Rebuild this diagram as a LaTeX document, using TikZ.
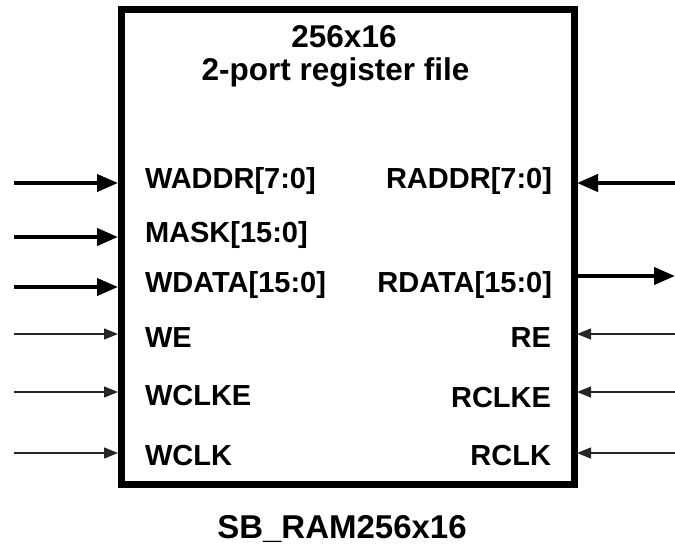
\documentclass[tikz,border=0pt]{standalone}
\usepackage{fontspec}
\setmainfont{Liberation Sans}
\usetikzlibrary{arrows.meta}
\begin{document}
\begin{tikzpicture}[x=1pt,y=-1pt,
  lbl/.style={inner sep=0pt, outer sep=0pt, font=\fontsize{29}{34}\selectfont\bfseries},
  ttl/.style={inner sep=0pt, outer sep=0pt, font=\fontsize{31.5}{36}\selectfont\bfseries},
  bus/.style={line width=4pt, -{Triangle[length=21pt,width=17pt]}},
  sig/.style={line width=1.3pt, draw=black!85, -{Triangle[length=14pt,width=11pt]}}]
\useasboundingbox (0,0) rectangle (675,550);
% main box
\node[draw, line width=7pt, minimum width=453pt, minimum height=475pt,
      inner sep=0pt, outer sep=0pt] (box) at (347.5,246.5) {};
% title
\node[ttl, anchor=base] (t1) at (344,47) {256x16};
\node[ttl, anchor=base] (t2) at (335.5,80) {2-port register file};
\node[ttl, anchor=base, font=\fontsize{33}{38}\selectfont\bfseries] (name) at (342,538) {SB\_RAM256x16};
% left labels
\node[lbl, anchor=base west] (lWADDR) at (145,188) {WADDR[7:0]};
\node[lbl, anchor=base west] (lMASK)  at (145,242) {MASK[15:0]};
\node[lbl, anchor=base west] (lWDATA) at (145,292) {WDATA[15:0]};
\node[lbl, anchor=base west] (lWE)    at (145,347) {WE};
\node[lbl, anchor=base west] (lWCLKE) at (145,405) {WCLKE};
\node[lbl, anchor=base west] (lWCLK)  at (145,465) {WCLK};
% right labels
\node[lbl, anchor=base east] (lRADDR) at (552,188) {RADDR[7:0]};
\node[lbl, anchor=base east] (lRDATA) at (552,292) {RDATA[15:0]};
\node[lbl, anchor=base east] (lRE)    at (551,347) {RE};
\node[lbl, anchor=base east] (lRCLKE) at (551,407) {RCLKE};
\node[lbl, anchor=base east] (lRCLK)  at (551,465) {RCLK};
% port coordinates (left)
\coordinate (sWADDR) at (14,183);  \coordinate (pWADDR) at (118,183);
\coordinate (sMASK)  at (14,237);  \coordinate (pMASK)  at (118,237);
\coordinate (sWDATA) at (14,287);  \coordinate (pWDATA) at (118,287);
\coordinate (sWE)    at (14,334);  \coordinate (pWE)    at (118,334);
\coordinate (sWCLKE) at (14,392);  \coordinate (pWCLKE) at (118,392);
\coordinate (sWCLK)  at (14,453);  \coordinate (pWCLK)  at (118,453);
% port coordinates (right)
\coordinate (sRADDR) at (675,183); \coordinate (pRADDR) at (577,183);
\coordinate (pRDATA) at (577,276); \coordinate (sRDATA) at (675,276);
\coordinate (sRE)    at (675,334); \coordinate (pRE)    at (577,334);
\coordinate (sRCLKE) at (675,392); \coordinate (pRCLKE) at (577,392);
\coordinate (sRCLK)  at (675,453); \coordinate (pRCLK)  at (577,453);
% connectors
\draw[bus] (sWADDR) -- (pWADDR);
\draw[bus] (sMASK) -- (pMASK);
\draw[bus] (sWDATA) -- (pWDATA);
\draw[sig] (sWE) -- (pWE);
\draw[sig] (sWCLKE) -- (pWCLKE);
\draw[sig] (sWCLK) -- (pWCLK);
\draw[bus] (sRADDR) -- (pRADDR);
\draw[bus] (pRDATA) -- (sRDATA);
\draw[sig] (sRE) -- (pRE);
\draw[sig] (sRCLKE) -- (pRCLKE);
\draw[sig] (sRCLK) -- (pRCLK);
\end{tikzpicture}
\end{document}
